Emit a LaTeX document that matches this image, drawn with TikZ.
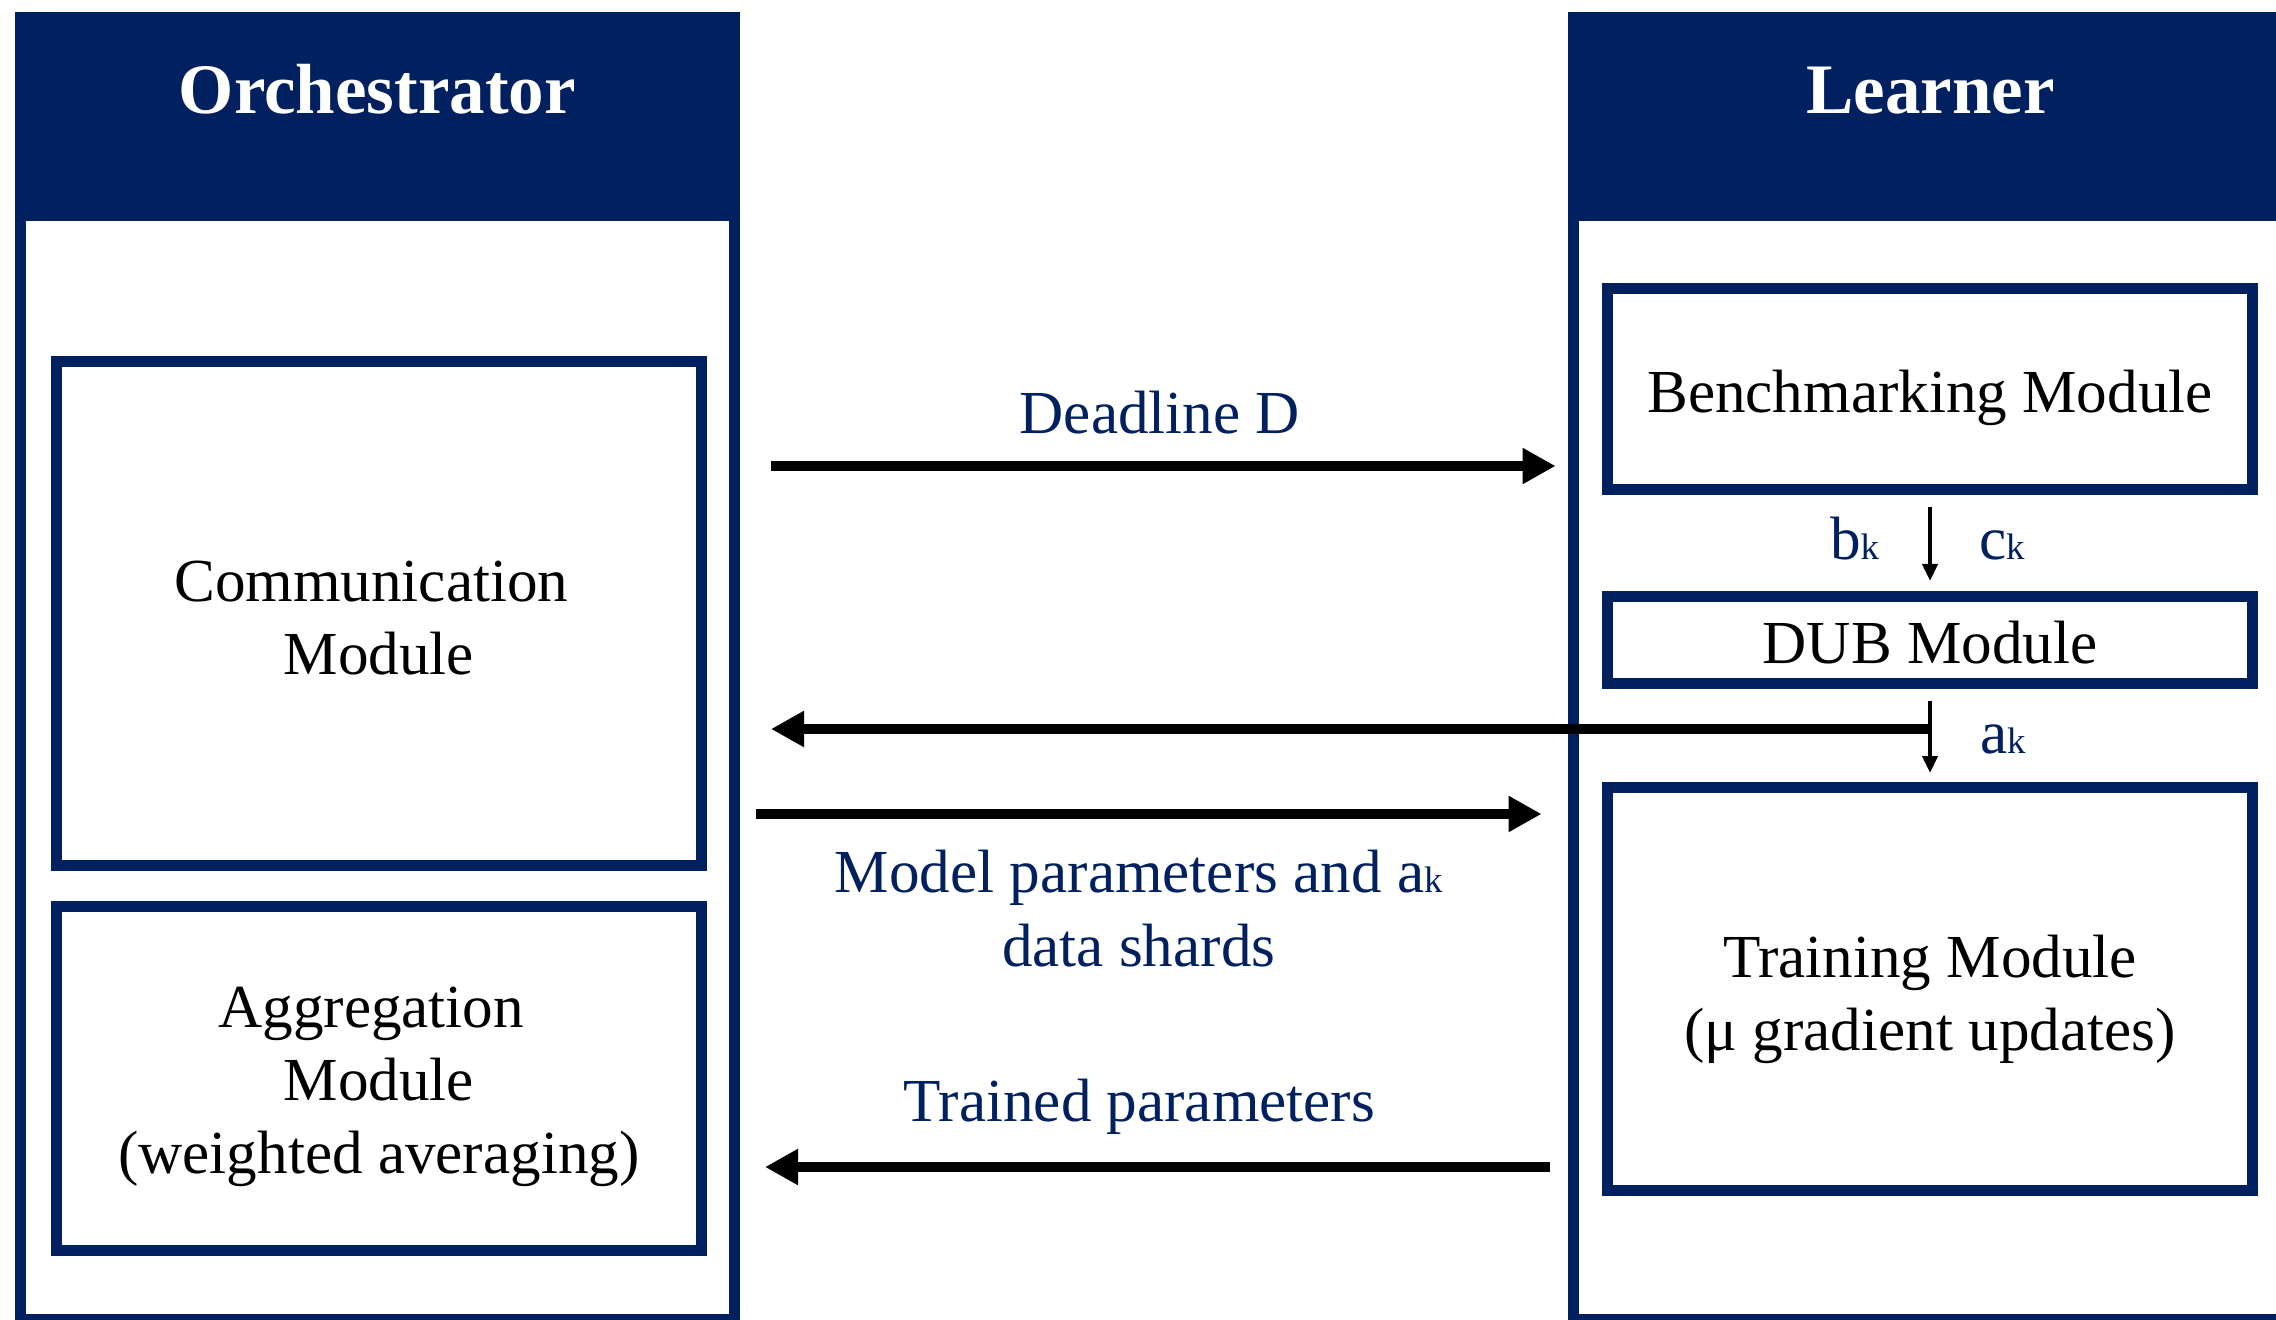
\documentclass[tikz,border=0pt]{standalone}
\usepackage{fontspec}
\setmainfont{Liberation Serif}
\usepackage{tikz}
\usetikzlibrary{positioning, arrows.meta}
\definecolor{navy}{HTML}{002060}
\tikzset{
  panel/.style={draw=navy, line width=1.1mm, fill=white, minimum width=71.45mm, minimum height=130.2mm, inner sep=0pt},
  header/.style={fill=navy, minimum width=72.55mm, minimum height=20.9mm, inner sep=0pt, outer sep=0pt},
  title/.style={text=white, font=\fontsize{20.2}{24}\selectfont\bfseries, inner sep=0pt},
  module/.style={draw=navy, line width=1.1mm, fill=white, minimum width=64.5mm, inner sep=0pt},
  modtext/.style={align=center, inner sep=0pt, font=\fontsize{17.4}{20.8}\selectfont},
  msg/.style={text=navy, align=center, inner sep=0pt, font=\fontsize{17.4}{20.8}\selectfont},
  bigarrow/.style={-{Triangle[length=3.3mm, width=3.4mm]}, line width=1mm},
  smallarrow/.style={-{Triangle[length=1.7mm, width=1.5mm]}, line width=0.4mm},
}
% letter with a small index set on the baseline
\newcommand{\idx}[2]{#1{\fontsize{10.5}{12}\selectfont #2}}

\begin{document}
\begin{tikzpicture}
  \useasboundingbox (0,0) rectangle (22.76,13.19);

  % the two columns
  \node[panel] (orch) at (3.7725,6.507) {};
  \node[panel] (learn) at (19.303,6.507) {};
  \node[header, anchor=north] (orchhead) at (orch.north) {};
  \node[header, anchor=north] (learnhead) at (learn.north) {};
  \node[title, anchor=base] (orchtitle) at ([yshift=-10.2mm]orchhead.north) {Orchestrator};
  \node[title, anchor=base] (learntitle) at ([yshift=-10.2mm]learnhead.north) {Learner};

  % orchestrator modules
  \node[module, minimum height=50.4mm] (comm) at (3.789,7.057) {};
  \node[module, minimum height=34.4mm, below=3mm of comm] (agg) {};
  \node[modtext, yshift=-0.45mm] (commtext) at (comm) {Communication\hphantom{\ }\\Module};
  \node[modtext, yshift=-0.85mm] (aggtext) at (agg) {Aggregation\hphantom{\ }\\Module\\(weighted averaging)};

  % learner modules
  \node[module, minimum height=20.1mm] (bench) at (19.30,9.30) {};
  \node[module, minimum height=8.7mm, below=9.6mm of bench] (dub) {};
  \node[module, minimum height=40.3mm, below=9.3mm of dub] (train) {};
  \node[modtext, yshift=-0.85mm] (benchtext) at (bench) {Benchmarking Module};
  \node[modtext, yshift=-0.3mm] (dubtext) at (dub) {DUB Module};
  \node[modtext, yshift=-1mm] (traintext) at (train) {Training Module\\(μ gradient updates)};

  % messages between the columns
  \draw[bigarrow, shorten <=3.1mm, shorten >=1.2mm] (orch.east |- 0,8.53) -- (learn.west |- 0,8.53)
    node[msg, midway, above=2.65mm, xshift=0.6mm] {Deadline D};
  \draw[bigarrow, shorten >=3.1mm] (dub.south |- 0,5.90) -- (orch.east |- 0,5.90);
  \draw[bigarrow, shorten <=1.6mm, shorten >=2.6mm] (orch.east |- 0,5.05) -- (learn.west |- 0,5.05)
    node[msg, midway, below=3.15mm, xshift=-1.5mm] {Model parameters and \idx{a}{k}\\data shards};
  \draw[bigarrow, shorten <=1.8mm, shorten >=2.5mm] (learn.west |- 0,1.52) -- (orch.east |- 0,1.52)
    node[msg, midway, above=2.7mm, xshift=-1.45mm] {Trained parameters};

  % inside the learner
  \draw[smallarrow, shorten <=1.2mm, shorten >=1mm] (bench) -- (dub)
    node[msg, pos=0.67, anchor=base east, xshift=-4.9mm] {\idx{b}{k}}
    node[msg, pos=0.67, anchor=base west, xshift=4.7mm] {\idx{c}{k}};
  \draw[smallarrow, shorten <=1.2mm, shorten >=0.9mm] (dub) -- (train)
    node[msg, pos=0.69, anchor=base west, xshift=4.8mm] {\idx{a}{k}};
\end{tikzpicture}
\end{document}
